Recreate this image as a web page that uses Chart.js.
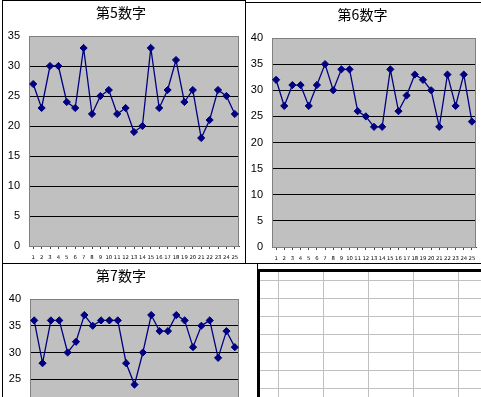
<!DOCTYPE html>
<html>
<head>
<meta charset="utf-8">
<script src="https://cdn.jsdelivr.net/npm/chart.js@4.4.0/dist/chart.umd.min.js"></script>
<style>
body { margin:0; width:481px; height:397px; overflow:hidden; background:#fff; position:relative; }
.sheet { position:absolute; left:260px; top:271px; width:221px; height:126px;
  background-image:
    repeating-linear-gradient(to right, transparent 0 18px, #c0c0c0 18px 19px, transparent 19px 45px),
    repeating-linear-gradient(to bottom, transparent 0 9px, #c0c0c0 9px 10px, transparent 10px 18px); }
.thick { position:absolute; background:#000; }
.box { position:absolute; border:1px solid #000; box-sizing:border-box; background:#fff; }
canvas { position:absolute; }
</style>
</head>
<body>
<div class="sheet"></div>
<div class="thick" style="left:257px;top:269px;width:3px;height:130px"></div>
<div class="thick" style="left:257px;top:269px;width:224px;height:3px"></div>

<div class="box" style="left:2px;top:0;width:244px;height:264px"></div>
<div class="box" style="left:245px;top:2px;width:260px;height:262px"></div>
<div class="box" style="left:2px;top:263px;width:256px;height:200px"></div>

<canvas id="c5" width="242" height="262" style="left:3px;top:1px"></canvas>
<canvas id="c6" width="235" height="260" style="left:246px;top:3px"></canvas>
<canvas id="c7" width="254" height="266" style="left:3px;top:264px"></canvas>

<script>
// データ
const categories = ['1','2','3','4','5','6','7','8','9','10','11','12','13','14','15','16','17','18','19','20','21','22','23','24','25'];
const titles = ['第5数字', '第6数字', '第7数字'];
const fifthDigit = [27,23,30,30,24,23,33,22,25,26,22,23,19,20,33,23,26,31,24,26,18,21,26,25,22];
const sixthDigit = [32,27,31,31,27,31,35,30,34,34,26,25,23,23,34,26,29,33,32,30,23,33,27,33,24];
const seventhDigit = [36,28,36,36,30,32,37,35,36,36,36,28,24,30,37,34,34,37,36,31,35,36,29,34,31];
const yMaxValues = [35, 40, 40];

// 灰色のプロットエリア
const plotArea = {
  id: 'plotArea',
  beforeDraw(chart) {
    const a = chart.chartArea, c = chart.ctx;
    c.save();
    c.fillStyle = '#c0c0c0';
    c.fillRect(a.left, a.top, a.right - a.left, a.bottom - a.top);
    c.restore();
  },
  beforeDatasetsDraw(chart) {
    const a = chart.chartArea, c = chart.ctx;
    c.save();
    c.strokeStyle = '#808080';
    c.lineWidth = 1;
    c.strokeRect(Math.round(a.left) + 0.5, Math.round(a.top) + 0.5,
      Math.round(a.right - a.left) - 1, Math.round(a.bottom - a.top));
    c.restore();
  }
};

function drawChart(id, title, values, yMax, g) {
  new Chart(document.getElementById(id), {
    type: 'line',
    data: {
      labels: categories,
      datasets: [{
        data: values,
        borderColor: '#000080',
        backgroundColor: '#000080',
        borderWidth: 1.3,
        pointStyle: 'rectRot',
        pointRadius: 3.6,
        pointBorderWidth: 1,
        tension: 0
      }]
    },
    options: {
      responsive: false,
      animation: false,
      devicePixelRatio: 1,
      layout: { padding: { left: 0, right: g.padR, top: 0, bottom: 0 } },
      plugins: {
        legend: { display: false },
        tooltip: { enabled: false },
        title: {
          display: true,
          text: title,
          color: '#000',
          font: { family: '"Noto Sans CJK JP"', size: 14, weight: 'normal' },
          padding: { top: g.tTop, bottom: g.tBottom }
        }
      },
      scales: {
        x: {
          offset: true,
          afterFit: s => { s.height = g.xh; },
          grid: { drawOnChartArea: false, drawTicks: true, tickLength: 3, color: '#444' },
          border: { display: true, color: '#444' },
          ticks: { autoSkip: false, maxRotation: 0, padding: 5, color: '#000',
            font: { family: '"DejaVu Sans"', size: 5.3 } }
        },
        y: {
          min: 0,
          max: yMax,
          afterFit: s => { s.width = g.yw; },
          grid: {
            drawTicks: false,
            color: ctx => (ctx.tick.value === 0 || ctx.tick.value === yMax) ? 'rgba(0,0,0,0)' : '#000'
          },
          border: { display: false },
          ticks: { stepSize: 5, padding: 9, color: '#000',
            font: { family: '"Liberation Sans"', size: 11 } }
        }
      }
    },
    plugins: [plotArea]
  });
}

drawChart('c5', titles[0], fifthDigit, yMaxValues[0], { yw: 26, padR: 6, tTop: 3, tBottom: 15.2, xh: 17 });
drawChart('c6', titles[1], sixthDigit, yMaxValues[1], { yw: 26, padR: 2, tTop: 3.6, tBottom: 14.6, xh: 16 });
drawChart('c7', titles[2], seventhDigit, yMaxValues[2], { yw: 27, padR: 18, tTop: 3.3, tBottom: 14.9, xh: 17 });
</script>
</body>
</html>
